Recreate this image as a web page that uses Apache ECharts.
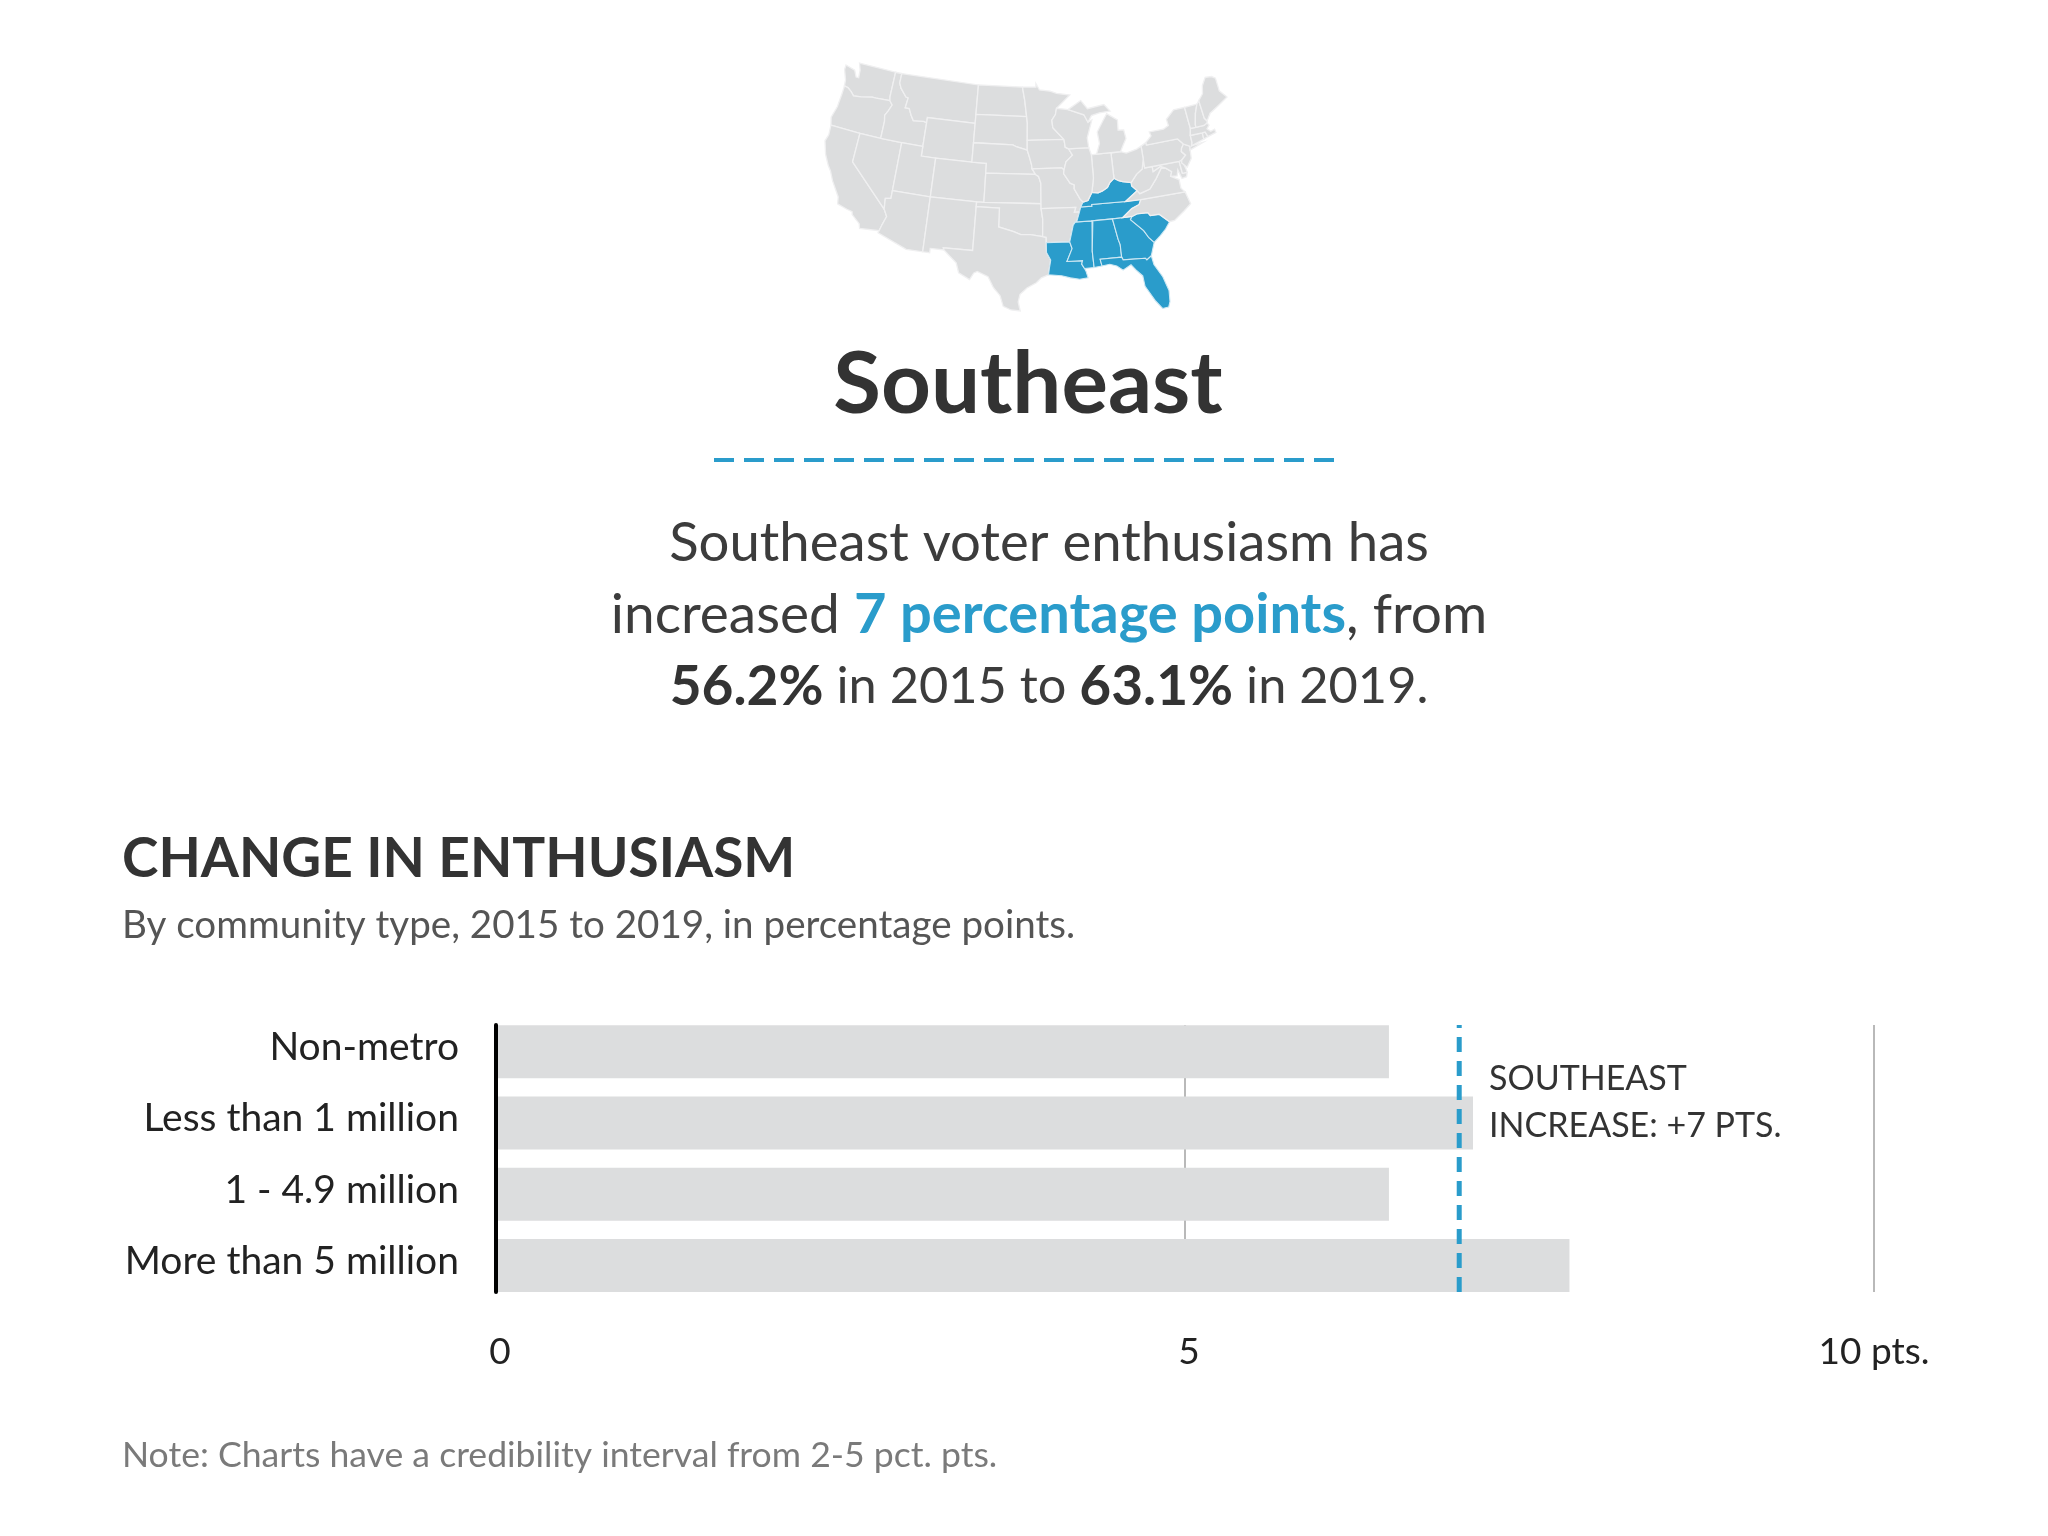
<!DOCTYPE html>
<html><head><meta charset="utf-8">
<style>html,body{margin:0;padding:0;background:#fff}#c{width:2048px;height:1536px}</style>
<script src="https://cdn.jsdelivr.net/npm/echarts@6/dist/echarts.min.js"></script>
</head><body><div id="c"></div>
<script>
const categories = ['Non-metro','Less than 1 million','1 - 4.9 million','More than 5 million'];
const changeValues = [6.48, 7.09, 6.48, 7.79];
const regionChange = 6.99;
const tickValues = [0, 5, 10];
const tickLabels = ['0', '5', '10 pts.'];
const highlightedStates = ['KY','TN','MS','AL','GA','SC','FL','LA'];
const stateOutlines = {
WA:[[[-124.7,48.4],[-123.2,48.15],[-122.7,47.5],[-122.3,47.5],[-122.4,48.3],[-122.8,49],[-117.03,49],[-117.04,46.4],[-116.92,45.99],[-119,45.93],[-119.6,45.92],[-121.2,45.65],[-122.3,45.55],[-122.8,45.9],[-123.4,46.2],[-124,46.27],[-124.1,46.9],[-124.7,47.9]]],
OR:[[[-124,46.27],[-123.4,46.2],[-122.8,45.9],[-122.3,45.55],[-121.2,45.65],[-119.6,45.92],[-119,45.93],[-116.92,45.99],[-116.46,45.6],[-116.85,44.9],[-117.2,44.4],[-117.03,43.8],[-117.03,42],[-120,42],[-124.2,42],[-124.5,42.8],[-124.1,44],[-124,45.5]]],
CA:[[[-124.2,42],[-120,42],[-120,39],[-114.63,35],[-114.14,34.3],[-114.5,33.4],[-114.72,32.72],[-117.12,32.53],[-117.3,33],[-118.4,33.75],[-118.5,34.03],[-119.2,34.15],[-120.5,34.45],[-120.65,35.15],[-121.9,36.6],[-122.5,37.5],[-123,38],[-123.75,39],[-124.35,40.3],[-124.1,41]]],
NV:[[[-120,42],[-117.03,42],[-114.04,42],[-114.04,37],[-114.04,36.2],[-114.75,36.1],[-114.63,35],[-120,39]]],
ID:[[[-117.03,49],[-116.05,49],[-116.05,48],[-115.7,47.5],[-114.7,46.7],[-114.35,46.65],[-114.5,45.6],[-113.9,45.6],[-113.45,44.95],[-113,44.45],[-111.5,44.55],[-111.05,44.48],[-111.05,42],[-114.04,42],[-117.03,42],[-117.03,43.8],[-117.2,44.4],[-116.85,44.9],[-116.46,45.6],[-116.92,45.99],[-117.04,46.4]]],
MT:[[[-116.05,49],[-104.05,49],[-104.05,45.94],[-104.05,45],[-111.05,45],[-111.05,44.48],[-111.5,44.55],[-113,44.45],[-113.45,44.95],[-113.9,45.6],[-114.5,45.6],[-114.35,46.65],[-114.7,46.7],[-115.7,47.5],[-116.05,48]]],
WY:[[[-111.05,45],[-104.05,45],[-104.05,43],[-104.05,41],[-109.05,41],[-111.05,41],[-111.05,42],[-111.05,44.48]]],
UT:[[[-114.04,42],[-111.05,42],[-111.05,41],[-109.05,41],[-109.05,37],[-114.04,37]]],
CO:[[[-109.05,41],[-104.05,41],[-102.05,41],[-102.05,40],[-102.05,37],[-103,37],[-109.05,37]]],
AZ:[[[-114.04,37],[-109.05,37],[-109.05,31.33],[-111.07,31.33],[-114.8,32.5],[-114.72,32.72],[-114.5,33.4],[-114.14,34.3],[-114.63,35],[-114.75,36.1],[-114.04,36.2]]],
NM:[[[-109.05,37],[-103,37],[-103,36.5],[-103.04,32],[-106.62,32],[-106.53,31.78],[-108.2,31.78],[-108.2,31.33],[-109.05,31.33]]],
ND:[[[-104.05,49],[-97.23,49],[-96.85,47.6],[-96.56,45.94],[-104.05,45.94]]],
SD:[[[-104.05,45.94],[-96.56,45.94],[-96.45,45.3],[-96.45,43.5],[-96.45,42.5],[-97.9,42.8],[-98.5,43],[-104.05,43]]],
NE:[[[-104.05,43],[-98.5,43],[-97.9,42.8],[-96.45,42.5],[-96.1,41.7],[-95.85,41],[-95.77,40.58],[-95.31,40],[-102.05,40],[-102.05,41],[-104.05,41]]],
KS:[[[-102.05,40],[-95.31,40],[-94.9,39.8],[-94.61,39.1],[-94.62,37],[-102.05,37]]],
OK:[[[-103,37],[-102.05,37],[-94.62,37],[-94.62,36.5],[-94.43,35.4],[-94.48,33.64],[-96,33.85],[-97.2,33.85],[-98.1,34.13],[-100,34.56],[-100,36.5],[-103,36.5]]],
TX:[[[-106.62,32],[-103.04,32],[-103,36.5],[-100,36.5],[-100,34.56],[-98.1,34.13],[-97.2,33.85],[-96,33.85],[-94.48,33.64],[-94.04,33.55],[-94.04,33],[-94.04,32],[-93.55,31.2],[-93.75,30.3],[-93.85,29.7],[-94.7,29.4],[-95.3,28.9],[-96.4,28.35],[-97.2,27.7],[-97.4,26.9],[-97.15,25.96],[-98.2,26.05],[-99.1,26.4],[-99.5,27.5],[-100.3,28.3],[-101,29.4],[-102.3,29.88],[-102.7,29.7],[-103.15,28.98],[-104.5,29.6],[-104.9,30.6],[-106.53,31.78]]],
MN:[[[-97.23,49],[-95.15,49],[-95.15,49.38],[-94.6,48.7],[-93,48.55],[-92,48.3],[-90,48.05],[-92.1,46.75],[-92.3,46.1],[-92.85,45.55],[-92.75,44.75],[-91.22,43.5],[-96.45,43.5],[-96.45,45.3],[-96.56,45.94],[-96.85,47.6]]],
IA:[[[-96.45,43.5],[-91.22,43.5],[-91.1,42.7],[-90.64,42.51],[-90.15,41.85],[-91.1,41.2],[-91.42,40.38],[-91.73,40.61],[-95.77,40.58],[-95.85,41],[-96.1,41.7],[-96.45,42.5]]],
MO:[[[-95.77,40.58],[-91.73,40.61],[-91.42,40.38],[-91.5,40],[-90.7,39],[-90.15,38.8],[-90.2,38.4],[-89.5,37.3],[-89.15,36.98],[-89.5,36.5],[-89.7,36],[-90.37,36],[-90.15,36.5],[-94.62,36.5],[-94.62,37],[-94.61,39.1],[-94.9,39.8],[-95.31,40]]],
AR:[[[-94.62,36.5],[-90.15,36.5],[-90.37,36],[-89.7,36],[-90.1,35.1],[-90.3,35],[-90.6,34.7],[-91.15,33],[-94.04,33],[-94.04,33.55],[-94.48,33.64],[-94.43,35.4]]],
LA:[[[-94.04,33],[-91.15,33],[-90.9,32.3],[-91.6,31],[-89.73,31],[-89.85,30.65],[-89.55,30.18],[-89.4,29.9],[-89.2,29.2],[-90.2,29.1],[-91.3,29.3],[-92.3,29.55],[-93.85,29.7],[-93.75,30.3],[-93.55,31.2],[-94.04,32]]],
MS:[[[-91.15,33],[-90.6,34.7],[-90.3,35],[-88.2,35],[-88.1,34.9],[-88.47,31.9],[-88.4,30.2],[-89.55,30.18],[-89.85,30.65],[-89.73,31],[-91.6,31],[-90.9,32.3]]],
TN:[[[-89.5,36.5],[-88.07,36.5],[-88.07,36.68],[-83.68,36.6],[-81.68,36.59],[-82,36.1],[-83,35.8],[-84.3,35],[-85.6,35],[-88.2,35],[-90.3,35],[-90.1,35.1],[-89.7,36]]],
KY:[[[-89.5,36.5],[-89.15,36.98],[-88.5,37.1],[-87.9,37.9],[-87.1,37.8],[-86.5,37.95],[-85.8,38.25],[-85.4,38.73],[-84.8,39.1],[-84.2,38.8],[-83.7,38.65],[-82.6,38.45],[-82.6,38.1],[-81.97,37.54],[-83.68,36.6],[-88.07,36.68],[-88.07,36.5]]],
AL:[[[-88.2,35],[-85.6,35],[-85.18,32.87],[-85,32.3],[-85,31],[-87.6,31],[-87.45,30.3],[-88.4,30.2],[-88.47,31.9],[-88.1,34.9]]],
GA:[[[-85.6,35],[-84.3,35],[-83.1,35],[-83.35,34.7],[-81.9,33.4],[-81.4,32.6],[-80.85,32.05],[-81.45,30.72],[-82.05,30.37],[-82.2,30.57],[-84.86,30.7],[-85,31],[-85,32.3],[-85.18,32.87]]],
FL:[[[-87.6,31],[-85,31],[-84.86,30.7],[-82.2,30.57],[-82.05,30.37],[-81.45,30.72],[-81.3,29.8],[-80.5,28.4],[-80.05,26.9],[-80.15,25.75],[-80.4,25.2],[-81.1,25.15],[-81.8,26.1],[-82.7,27.7],[-82.8,28.8],[-83.5,29.5],[-84,30.1],[-85,29.65],[-85.7,30.15],[-86.5,30.4],[-87.45,30.3]]],
SC:[[[-83.35,34.7],[-83.1,35],[-82.4,35.2],[-81.05,35.15],[-80.8,34.82],[-79.67,34.8],[-78.55,33.86],[-79.2,33.2],[-80,32.6],[-80.85,32.05],[-81.4,32.6],[-81.9,33.4]]],
NC:[[[-84.3,35],[-83,35.8],[-82,36.1],[-81.68,36.59],[-75.87,36.55],[-75.5,35.25],[-76.5,34.65],[-77.9,33.9],[-78.55,33.86],[-79.67,34.8],[-80.8,34.82],[-81.05,35.15],[-82.4,35.2],[-83.1,35]]],
VA:[[[-83.68,36.6],[-81.97,37.54],[-81.68,37.2],[-80.3,37.5],[-79.3,38.4],[-78.35,39.4],[-77.75,39.32],[-77.05,38.85],[-77.3,38.4],[-76.3,37.9],[-76.3,37],[-75.87,36.55],[-81.68,36.59]]],
WV:[[[-81.97,37.54],[-82.6,38.1],[-82.6,38.45],[-81.75,39.2],[-80.87,39.65],[-80.52,40.64],[-80.52,39.72],[-79.48,39.72],[-79.48,39.2],[-78.4,39.6],[-77.75,39.32],[-78.35,39.4],[-79.3,38.4],[-80.3,37.5],[-81.68,37.2]]],
MD:[[[-79.48,39.72],[-75.79,39.72],[-75.7,38.46],[-75.05,38.45],[-75.25,38.03],[-75.9,37.95],[-76.2,38.9],[-76.45,38.3],[-77.3,38.4],[-77.05,38.85],[-77.75,39.32],[-78.4,39.6],[-79.48,39.2]]],
DE:[[[-75.79,39.72],[-75.4,39.8],[-75.1,38.8],[-75.05,38.45],[-75.7,38.46]]],
PA:[[[-80.52,41.98],[-79.76,42.27],[-79.76,42],[-75.35,42],[-74.7,41.36],[-75.1,40.95],[-75.2,40.65],[-74.75,40.2],[-75.4,39.8],[-75.79,39.72],[-80.52,39.72],[-80.52,40.64]]],
NJ:[[[-74.7,41.36],[-73.9,41],[-74,40.45],[-74.1,39.75],[-74.9,38.95],[-75.5,39.5],[-75.4,39.8],[-74.75,40.2],[-75.2,40.65],[-75.1,40.95]]],
NY:[[[-79.76,42.27],[-78.9,42.85],[-79.05,43.27],[-77,43.28],[-76.2,43.55],[-76.3,44.2],[-75,45],[-73.35,45],[-73.3,43.6],[-73.25,42.75],[-73.5,42.05],[-73.5,41.3],[-73.65,41],[-72,41.05],[-74,40.6],[-73.9,41],[-74.7,41.36],[-75.35,42],[-79.76,42]]],
CT:[[[-73.5,42.05],[-71.8,42.02],[-71.8,41.35],[-73.65,41],[-73.5,41.3]]],
RI:[[[-71.8,42.02],[-71.38,42.02],[-71.15,41.5],[-71.8,41.35]]],
MA:[[[-73.25,42.75],[-72.46,42.73],[-71.3,42.7],[-70.8,42.87],[-70.6,42.6],[-71,42.3],[-70.6,41.95],[-70,42.05],[-69.95,41.7],[-71.15,41.5],[-71.38,42.02],[-71.8,42.02],[-73.5,42.05]]],
VT:[[[-73.35,45],[-71.5,45],[-72.05,44.1],[-72.45,43],[-72.46,42.73],[-73.25,42.75],[-73.3,43.6]]],
NH:[[[-71.5,45],[-71.1,45.3],[-70.98,43.4],[-70.7,43.07],[-70.8,42.87],[-71.3,42.7],[-72.46,42.73],[-72.45,43],[-72.05,44.1]]],
ME:[[[-71.1,45.3],[-70.3,45.9],[-70,46.7],[-69.25,47.45],[-68.3,47.35],[-67.8,47.07],[-67.8,45.7],[-67,44.85],[-68.5,44.3],[-70,43.75],[-70.7,43.07],[-70.98,43.4]]],
OH:[[[-84.8,41.7],[-83.45,41.73],[-82.7,41.5],[-81.2,41.75],[-80.52,41.98],[-80.52,40.64],[-80.87,39.65],[-81.75,39.2],[-82.6,38.45],[-83.7,38.65],[-84.2,38.8],[-84.8,39.1]]],
IN:[[[-87.53,41.72],[-86.8,41.76],[-84.8,41.76],[-84.8,41.7],[-84.8,39.1],[-85.4,38.73],[-85.8,38.25],[-86.5,37.95],[-87.1,37.8],[-87.9,37.9],[-87.53,39.35]]],
IL:[[[-90.64,42.51],[-87.8,42.49],[-87.53,41.72],[-87.53,39.35],[-87.9,37.9],[-88.5,37.1],[-89.15,36.98],[-89.5,37.3],[-90.2,38.4],[-90.15,38.8],[-90.7,39],[-91.5,40],[-91.42,40.38],[-91.1,41.2],[-90.15,41.85]]],
WI:[[[-92.1,46.75],[-90.4,46.55],[-88.1,45.9],[-87.6,45.1],[-87,45.3],[-87.9,43.5],[-87.8,42.49],[-90.64,42.51],[-91.1,42.7],[-91.22,43.5],[-92.75,44.75],[-92.85,45.55],[-92.3,46.1]]],
MI:[[[-86.8,41.76],[-84.8,41.76],[-84.8,41.7],[-83.45,41.73],[-83.1,42.2],[-82.45,43],[-82.6,43.9],[-83.4,43.95],[-83.3,45],[-84.75,45.78],[-85.5,45],[-86.4,44],[-86.25,42.8]],[[-90.4,46.55],[-88.4,47.4],[-87.5,46.5],[-85,46.75],[-84.2,46],[-85.8,45.95],[-87,45.75],[-87.6,45.1],[-88.1,45.9]]]
};

const FONT = 'Lato';
const BLUE = '#2a9ccb';

const usGeo = {type:'FeatureCollection',features:Object.keys(stateOutlines).map(k=>({
  type:'Feature',properties:{name:k},geometry:{type:'MultiPolygon',coordinates:stateOutlines[k].map(r=>[r])}
}))};
echarts.registerMap('us', usGeo);

const rad = Math.PI/180, p1=29.5*rad, p2=45.5*rad, lat0=37.5*rad, lon0=-96*rad;
const n=(Math.sin(p1)+Math.sin(p2))/2, C=Math.cos(p1)**2+2*n*Math.sin(p1);
const rho0=Math.sqrt(C-2*n*Math.sin(lat0))/n;
const YS = 101.2;
const albers = {
  project(pt){const t=n*(pt[0]*rad-lon0), r=Math.sqrt(C-2*n*Math.sin(pt[1]*rad))/n;
    return [r*Math.sin(t)*100, -(rho0-r*Math.cos(t))*YS];},
  unproject(pt){const x=pt[0]/100,y=-pt[1]/YS,r=Math.hypot(x,rho0-y),t=Math.atan2(x,rho0-y);
    return [(lon0+t/n)/rad, Math.asin((C-n*n*r*r)/(2*n))/rad];}
};

function txt(text,x,y,size,color,weight,align,rich){
  return {type:'text',silent:true,style:{text,x,y,align:align||'left',verticalAlign:'middle',
    font:(weight||'normal')+' '+size+'px '+FONT,fill:color,rich}};
}
const paraRich = {
  b:{font:'bold 55px '+FONT,fill:'#333333'},
  h:{font:'bold 56px '+FONT,fill:BLUE},
  n:{font:'normal 55px '+FONT,fill:'#3c3c3c'},
  m:{font:'normal 50.5px '+FONT,fill:'#3c3c3c'}
};

const chart = echarts.init(document.getElementById('c'),null,{renderer:'canvas'});
chart.setOption({
  animation:false,
  backgroundColor:'#fff',
  geo:{map:'us',projection:albers,left:825,top:63,width:402,height:248,roam:false,silent:true,
    label:{show:false},
    itemStyle:{areaColor:'#dcddde',borderColor:'#f0f0f1',borderWidth:1.3},
    regions:highlightedStates.map(name=>({name,itemStyle:{areaColor:BLUE,borderColor:'#cfe8f3',borderWidth:1.1}}))
  },
  grid:[
    {left:496,width:1378,top:1016,height:285},
    {left:496,width:1378,top:1025,height:267}
  ],
  xAxis:[
    {gridIndex:0,type:'value',min:0,max:10,show:false},
    {gridIndex:1,type:'value',min:0,max:10,interval:5,position:'bottom',
      axisLine:{show:false},axisTick:{show:false},
      splitLine:{show:true,lineStyle:{color:'#b9b9b9',width:2}},
      axisLabel:{margin:42,fontFamily:FONT,fontSize:37,color:'#222',
        rich:{s:{fontFamily:FONT,fontSize:37,color:'#222',padding:[0,0,0,8]},
              e:{fontFamily:FONT,fontSize:37,color:'#222'}},
        formatter:v=>{const s=tickLabels[tickValues.indexOf(v)];return v===10?'{e|'+s+'}':'{s|'+s+'}';}}}
  ],
  yAxis:[
    {gridIndex:0,type:'category',inverse:true,data:categories,
      axisLine:{show:false},axisTick:{show:false},
      axisLabel:{margin:37,color:'#222',
        rich:{c:{fontFamily:FONT,fontSize:39,color:'#222',padding:[0,0,8,0]}},
        formatter:v=>'{c|'+v+'}'}},
    {gridIndex:1,type:'value',min:0,max:1,interval:1,position:'left',z:5,
      axisLine:{show:true,lineStyle:{color:'#000',width:4}},
      axisTick:{show:false},axisLabel:{show:false},splitLine:{show:false}}
  ],
  series:[
    {type:'bar',name:'Change',xAxisIndex:0,yAxisIndex:0,data:changeValues,barWidth:53,
      itemStyle:{color:'#dcddde'},silent:true,z:2},
    {type:'line',name:'Southeast increase',xAxisIndex:1,yAxisIndex:1,
      data:[[regionChange,0],[regionChange,1]],symbol:'none',silent:true,z:4,
      lineStyle:{color:BLUE,width:5,type:[15,9]}}
  ],
  graphic:{elements:[
    txt('Southeast',1028,385,87,'#333333','bold','center'),
    {type:'line',silent:true,shape:{x1:714,y1:460,x2:1342,y2:460},
      style:{stroke:BLUE,lineWidth:4,lineDash:[20,10]}},
    txt('Southeast voter enthusiasm has',1049,543,54.5,'#3c3c3c','normal','center'),
    txt('{n|increased }{h|7 percentage points}{n|, from}',1049,615,54,'#3c3c3c','normal','center',paraRich),
    txt('{b|56.2%}{m| in 2015 to }{b|63.1%}{m| in 2019.}',1049,687,54,'#3c3c3c','normal','center',paraRich),
    txt('CHANGE IN ENTHUSIASM',122,859,55,'#333333','bold'),
    txt('By community type, 2015 to 2019, in percentage points.',122,926,38.6,'#555555'),
    txt('SOUTHEAST',1489,1079,34,'#333333'),
    txt('INCREASE: +7 PTS.',1489,1126,34,'#333333'),
    txt('Note: Charts have a credibility interval from 2-5 pct. pts.',122,1456,35.6,'#7a7a7a')
  ]}
});
</script></body></html>
